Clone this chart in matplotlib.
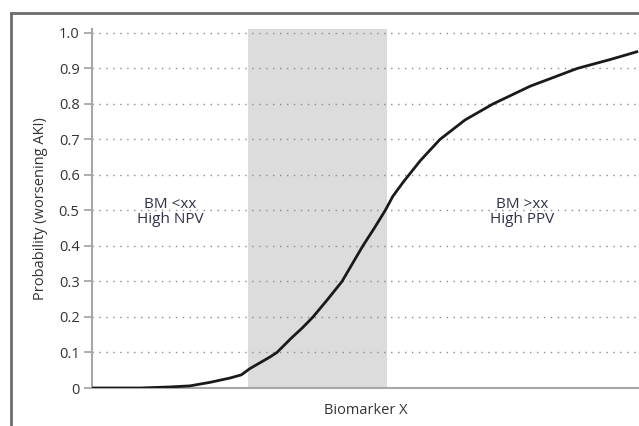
import matplotlib
matplotlib.use("Agg")
import matplotlib.pyplot as plt
from matplotlib.lines import Line2D

# Data
biomarker_x = [0, 8.8, 14.3, 17.9, 21.6, 25.2, 27.3, 28.9, 32.5, 33.8, 36.4, 38.5, 40.4,
               43.1, 45.7, 47.6, 49.5, 51.6, 53.6, 55.0, 56.9, 60.0, 63.6, 68.2, 73.3,
               80.1, 88.7, 94.7, 99.6]
probability = [0.0, 0.0, 0.003, 0.006, 0.016, 0.028, 0.037, 0.055, 0.087, 0.10, 0.14, 0.17, 0.20,
               0.25, 0.30, 0.35, 0.40, 0.45, 0.50, 0.54, 0.58, 0.64, 0.70, 0.755, 0.80,
               0.85, 0.90, 0.925, 0.947]
gray_zone = (28.5, 53.9)
y_ticks = [0, 0.1, 0.2, 0.3, 0.4, 0.5, 0.6, 0.7, 0.8, 0.9, 1.0]
y_tick_labels = ["0", "0.1", "0.2", "0.3", "0.4", "0.5", "0.6", "0.7", "0.8", "0.9", "1.0"]
left_text = "BM <xx\nHigh NPV"
right_text = "BM >xx\nHigh PPV"

plt.rcParams['font.family'] = ['Open Sans', 'DejaVu Sans']

fig = plt.figure(figsize=(6.39, 4.26), dpi=100)
ax = fig.add_axes([92/639, 1-388/426, 547/639, (388-29.4)/426])

ax.axvspan(gray_zone[0], gray_zone[1], color='#dcdcdd', lw=0, zorder=0)
for yv in y_ticks[1:]:
    ax.axhline(yv, color='#8a8a8a', lw=1.0, ls=(0, (1, 4)), zorder=1)

ax.plot(biomarker_x, probability, color='#1a1a1a', lw=2.0, zorder=3,
        solid_joinstyle='round')

ax.set_xlim(0, 100)
ax.set_ylim(0, 1.01)
ax.set_yticks(y_ticks)
ax.set_yticklabels(y_tick_labels)
ax.set_xticks([])
ax.tick_params(axis='y', direction='out', length=6, width=1.2, color='#a0a0a0',
               labelsize=10.5, labelcolor='#333333', pad=3)
for s in ['top', 'right']:
    ax.spines[s].set_visible(False)
for s in ['left', 'bottom']:
    ax.spines[s].set_color('#a8a8a8')
    ax.spines[s].set_linewidth(1.5)

ax.set_ylabel("Probability (worsening AKI)", fontsize=10.5, color='#333333', labelpad=8)
ax.set_xlabel("Biomarker X", fontsize=10.5, color='#333333', labelpad=11)

ax.text(14.3, 0.497, left_text, ha='center', va='center', fontsize=11,
        color='#2e3148', linespacing=1.0)
ax.text(78.6, 0.497, right_text, ha='center', va='center', fontsize=11,
        color='#2e3148', linespacing=1.0)

# figure frame (top and left edges visible)
fig.add_artist(Line2D([11/639, 1.0], [1-13/426, 1-13/426], transform=fig.transFigure,
                      color='#6d6d6d', lw=2))
fig.add_artist(Line2D([11/639, 11/639], [0, 1-13/426], transform=fig.transFigure,
                      color='#6d6d6d', lw=2))

fig.savefig("out.png", dpi=100)
